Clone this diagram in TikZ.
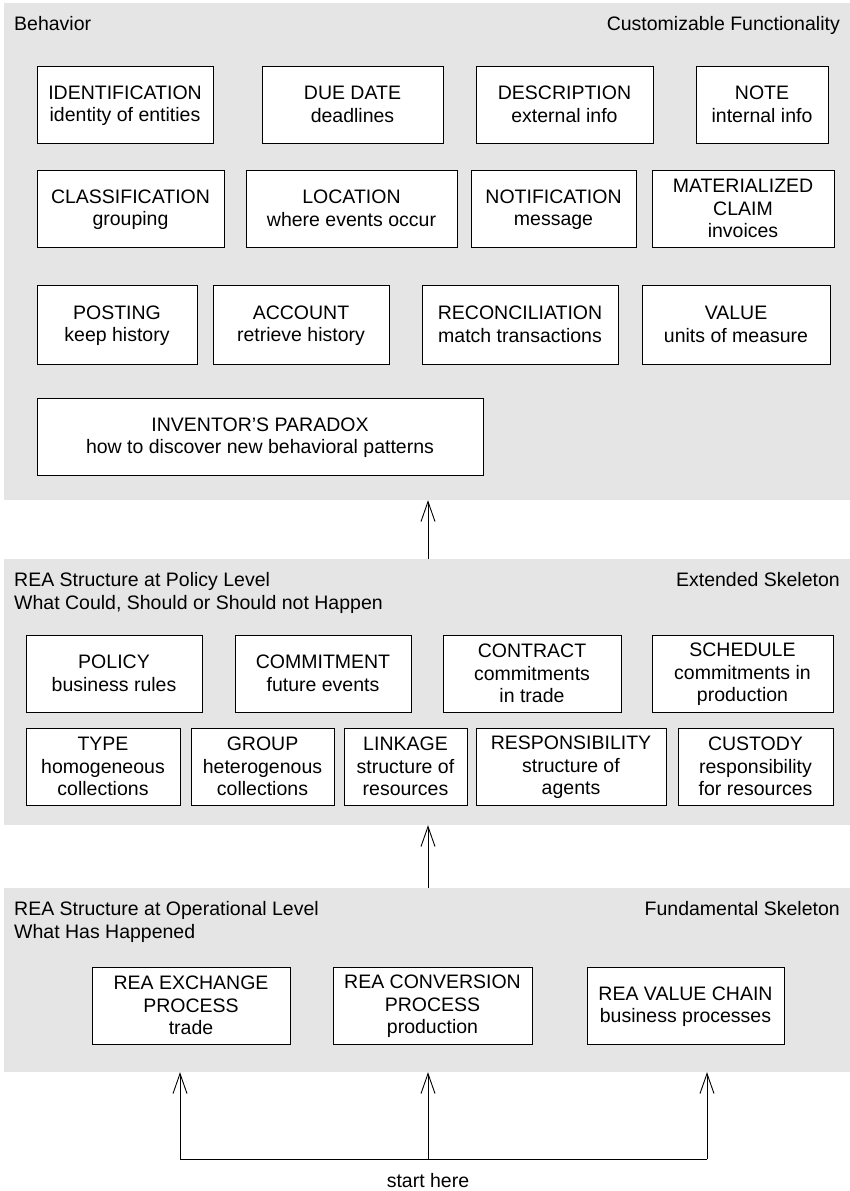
\documentclass[tikz,border=0pt]{standalone}
\usepackage{fontspec}
\setmainfont{Liberation Sans}
\usetikzlibrary{arrows.meta}
\definecolor{panelgray}{RGB}{229,229,229}

% Box given by its corners (x1,y1) and (x2,y2), y measured downwards;
% fixed rules keep the baselines independent of ascenders and descenders
\newcommand\topstrut{\rule{0pt}{15.75pt}}
\newcommand\botstrut{\rule[-2.75pt]{0pt}{2.75pt}}
\newcommand\rbox[6]{%
  \node[box, minimum width={(#4-#2)*1pt}, minimum height={(#5-#3)*1pt}]
    (#1) at ({(#2+#4)/2},{(#3+#5)/2}) {\topstrut #6\botstrut};}
\newcommand\rpanel[5]{%
  \node[panel, minimum width={(#4-#2)*1pt}, minimum height={(#5-#3)*1pt}]
    (#1) at ({(#2+#4)/2},{(#3+#5)/2}) {};}

\begin{document}
\begin{tikzpicture}[x=1pt, y=-1pt,
  every node/.style={font=\fontsize{19.5}{22.5}\selectfont, inner sep=0pt},
  panel/.style={fill=panelgray, draw=none},
  box/.style={draw=black, fill=white, line width=1pt, align=center},
  title/.style={anchor=base west, align=left},
  rtitle/.style={anchor=base east},
  arr/.style={line width=0.9pt, -{Straight Barb[length=20pt, width=14pt, line width=0.9pt]}},
  link/.style={line width=0.9pt}]

\useasboundingbox (0,0) rectangle (850,1191);

% ---------- customizable functionality ----------
\rpanel{p1}{4}{3}{850}{500}
\node[title] (t1) at (14,30) {Behavior};
\node[rtitle] (t1r) at (840,30) {Customizable Functionality};

\rbox{ident}{37}{66}{213}{143}{IDENTIFICATION\\identity of entities}
\rbox{due}{262}{66}{443}{143}{DUE DATE\\deadlines}
\rbox{desc}{476}{66}{653}{143}{DESCRIPTION\\external info}
\rbox{note}{696}{66}{828}{143}{NOTE\\internal info}

\rbox{cls}{37}{170}{224}{247}{CLASSIFICATION\\grouping}
\rbox{loc}{246}{170}{457}{247}{LOCATION\\where events occur}
\rbox{notif}{471}{170}{636}{247}{NOTIFICATION\\message}
\rbox{claim}{652}{170}{834}{247}{MATERIALIZED\\CLAIM\\invoices}

\rbox{post}{37}{285}{197}{364}{POSTING\\keep history}
\rbox{acct}{213}{285}{389}{364}{ACCOUNT\\retrieve history}
\rbox{recon}{422}{285}{618}{364}{RECONCILIATION\\match transactions}
\rbox{value}{642}{285}{830}{364}{VALUE\\units of measure}

\rbox{inv}{37}{398}{483}{475}{INVENTOR'S PARADOX\\how to discover new behavioral patterns}

% ---------- extended skeleton ----------
\rpanel{p2}{4}{559}{850}{825}
\node[title] (t2) at (14,586) {REA Structure at Policy Level};
\node[title] (t2b) at (14,609.5) {What Could, Should or Should not Happen};
\node[rtitle] (t2r) at (840,586) {Extended Skeleton};

\rbox{policy}{26}{635}{202}{712}{POLICY\\business rules}
\rbox{commit}{235}{635}{411}{712}{COMMITMENT\\future events}
\rbox{contract}{443}{635}{621}{712}{CONTRACT\\commitments\\in trade}
\rbox{sched}{652}{635}{833}{712}{SCHEDULE\\commitments in\\production}

\rbox{type}{26}{728}{180}{805}{TYPE\\homogeneous\\collections}
\rbox{group}{191}{728}{334}{805}{GROUP\\heterogenous\\collections}
\rbox{link}{344}{728}{467}{805}{LINKAGE\\structure of\\resources}
\rbox{resp}{476}{728}{666}{805}{RESPONSIBILITY\\structure of\\agents}
\rbox{cust}{678}{728}{833}{805}{CUSTODY\\responsibility\\for resources}

% ---------- fundamental skeleton ----------
\rpanel{p3}{4}{888}{850}{1072}
\node[title] (t3) at (14,915) {REA Structure at Operational Level};
\node[title] (t3b) at (14,938.5) {What Has Happened};
\node[rtitle] (t3r) at (840,915) {Fundamental Skeleton};

\rbox{exch}{92}{967}{290}{1044}{REA EXCHANGE\\PROCESS\\trade}
\rbox{conv}{333}{967}{532}{1044}{REA CONVERSION\\PROCESS\\production}
\rbox{chain}{587}{967}{784}{1044}{REA VALUE CHAIN\\business processes}

% ---------- connectors ----------
\coordinate (mx) at (428,0);
\draw[arr] (p2.north -| mx) -- (p1.south -| mx);
\draw[arr] (p3.north -| mx) -- (p2.south -| mx);

\coordinate (sl) at (180,1159);
\coordinate (sm) at (428,1159);
\coordinate (sr) at (707,1159);
\draw[link] (sl) -- (sr);
\draw[arr] (sl) -- (sl |- p3.south);
\draw[arr] (sm) -- (sm |- p3.south);
\draw[arr] (sr) -- (sr |- p3.south);
\node[anchor=base] (start) at (428,1187) {start here};

\end{tikzpicture}
\end{document}
